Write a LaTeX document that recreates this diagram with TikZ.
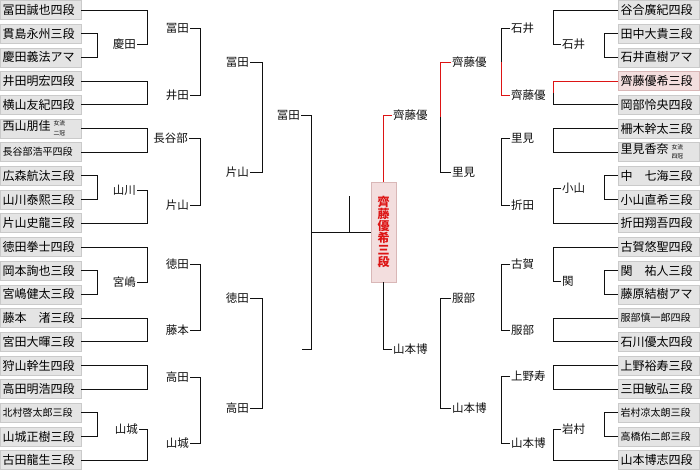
\documentclass[tikz,border=0pt]{standalone}
\usepackage{fontspec}
\setmainfont{Noto Sans CJK JP}
\usepackage{tikz}
\usetikzlibrary{calc}
\definecolor{ink}{HTML}{111111}
\definecolor{boxfill}{HTML}{E4E4E4}
\definecolor{boxline}{HTML}{CACACA}
\definecolor{winred}{HTML}{DD1414}
\definecolor{champfill}{HTML}{F3DEDE}
\definecolor{champline}{HTML}{D9B7B7}

\newcommand{\sm}[1]{{\fontsize{10}{12}\selectfont #1}}
\newcommand{\joryu}[2]{\hspace{3pt}{\fontsize{5.8}{9.5}\selectfont\begin{tabular}[c]{@{}c@{}}#1\\#2\end{tabular}}}

\begin{document}
\begin{tikzpicture}[x=1pt,y=-1pt,font=\fontsize{11.5}{13}\selectfont,
  player/.style={draw=boxline,fill=boxfill,line width=0.8pt,minimum width=81pt,
    minimum height=19pt,text width=76pt,align=left,inner xsep=2.5pt,inner ysep=0pt,
    font=\fontsize{12}{13}\selectfont},
  picked/.style={player,draw=champline,fill=champfill},
  champ/.style={draw=champline,fill=champfill,line width=0.8pt,minimum width=25pt,
    minimum height=100pt,inner sep=0pt,align=center,text=winred,
    font=\fontsize{12}{12}\selectfont\bfseries},
  lbl/.style={inner sep=1pt,text=ink},
  link/.style={ink,line width=0.9pt},
  win/.style={winred,line width=0.9pt}]
  \useasboundingbox (0,0) rectangle (700,474);

  % bracket columns
  \coordinate (la) at (97,0);
  \coordinate (lb) at (147,0);
  \coordinate (lc) at (200,0);
  \coordinate (ld) at (262,0);
  \coordinate (le) at (311,0);
  \coordinate (ra) at (604,0);
  \coordinate (rb) at (553,0);
  \coordinate (rc) at (501,0);
  \coordinate (rd) at (440,0);

  \foreach \n/\who in {1/冨田誠也四段,2/貫島永州三段,3/慶田義法アマ,4/井田明宏四段,
      5/横山友紀四段,6/西山朋佳\joryu{女流}{二冠},7/\sm{長谷部浩平四段},8/広森航汰三段,
      9/山川泰熙三段,10/片山史龍三段,11/徳田拳士四段,12/岡本詢也三段,13/宮嶋健太三段,
      14/藤本　渚三段,15/宮田大暉三段,16/狩山幹生四段,17/高田明浩四段,
      18/\sm{北村啓太郎三段},19/山城正樹三段,20/古田龍生三段}
    \node[player] (L\n) at (40.5,{10+23.7*(\n-1)}) {\who};

  \foreach \n/\who/\sty in {1/谷合廣紀四段/player,2/田中大貴三段/player,
      3/石井直樹アマ/player,4/齊藤優希三段/picked,5/岡部怜央四段/player,
      6/柵木幹太三段/player,7/里見香奈\joryu{女流}{四冠}/player,8/中　七海三段/player,
      9/小山直希三段/player,10/折田翔吾四段/player,11/古賀悠聖四段/player,
      12/関　祐人三段/player,13/藤原結樹アマ/player,14/\sm{服部慎一郎四段}/player,
      15/石川優太四段/player,16/上野裕寿三段/player,17/三田敏弘三段/player,
      18/\sm{岩村凉太朗三段}/player,19/\sm{高橋佑二郎三段}/player,20/山本博志四段/player}
    \node[\sty] (R\n) at (658.5,{10+23.7*(\n-1)}) {\who};

  \node[champ] (final) at (383.5,232) {齊\\藤\\優\\希\\三\\段};

  % left side winners
  \node[lbl,anchor=east] (keida) at (137,44) {慶田};
  \node[lbl,anchor=east] (yamakawa) at (137,190) {山川};
  \node[lbl,anchor=east] (miyajima) at (137,282) {宮嶋};
  \node[lbl,anchor=east] (yamashiroA) at (139,429) {山城};
  \node[lbl,anchor=east] (tomitaA) at (190,28) {冨田};
  \node[lbl,anchor=east] (ida) at (190,95) {井田};
  \node[lbl,anchor=east] (hasebe) at (189,138) {長谷部};
  \node[lbl,anchor=east] (katayamaA) at (190,205) {片山};
  \node[lbl,anchor=east] (tokudaA) at (190,264) {徳田};
  \node[lbl,anchor=east] (fujimoto) at (190,330) {藤本};
  \node[lbl,anchor=east] (takadaA) at (190,377) {高田};
  \node[lbl,anchor=east] (yamashiroB) at (190,443) {山城};
  \node[lbl,anchor=east] (tomitaB) at (250,62) {冨田};
  \node[lbl,anchor=east] (katayamaB) at (250,172) {片山};
  \node[lbl,anchor=east] (tokudaB) at (250,298) {徳田};
  \node[lbl,anchor=east] (takadaB) at (250,408) {高田};
  \node[lbl,anchor=east] (tomitaC) at (301,115) {冨田};
  \coordinate (leftC) at (302,349);
  \coordinate (tick) at (349,196);

  % right side winners
  \node[lbl,anchor=west] (ishiiA) at (561,44) {石井};
  \node[lbl,anchor=west] (koyama) at (561,188) {小山};
  \node[lbl,anchor=west] (seki) at (561,281) {関};
  \node[lbl,anchor=west] (iwamura) at (561,429) {岩村};
  \node[lbl,anchor=west] (ishiiB) at (510,28) {石井};
  \node[lbl,anchor=west] (saitoA) at (510,95) {齊藤優};
  \node[lbl,anchor=west] (satomiA) at (510,138) {里見};
  \node[lbl,anchor=west] (orita) at (510,205) {折田};
  \node[lbl,anchor=west] (koga) at (510,264) {古賀};
  \node[lbl,anchor=west] (hattoriA) at (510,330) {服部};
  \node[lbl,anchor=west] (uenoju) at (510,376) {上野寿};
  \node[lbl,anchor=west] (yamamotoA) at (510,443) {山本博};
  \node[lbl,anchor=west] (saitoB) at (451,62) {齊藤優};
  \node[lbl,anchor=west] (satomiB) at (451,172) {里見};
  \node[lbl,anchor=west] (hattoriB) at (451,298) {服部};
  \node[lbl,anchor=west] (yamamotoB) at (451,408) {山本博};
  \node[lbl,anchor=west] (saitoC) at (392,115) {齊藤優};
  \node[lbl,anchor=west] (yamamotoC) at (392,349) {山本博};

  \foreach \a/\b/\c in {L2/L3/la,L8/L9/la,L12/L13/la,L18/L19/la,
      L1/keida/lb,L4/L5/lb,L6/L7/lb,yamakawa/L10/lb,L11/miyajima/lb,L14/L15/lb,
      L16/L17/lb,yamashiroA/L20/lb,tomitaA/ida/lc,hasebe/katayamaA/lc,
      tokudaA/fujimoto/lc,takadaA/yamashiroB/lc,tomitaB/katayamaB/ld,
      tokudaB/takadaB/ld}
    \draw[link] (\a.east) -| (\c |- \b.east) -- (\b.east);
  \draw[link] (tomitaC.east) -| (le |- leftC) -- (leftC);
  \draw[link] (le |- final.west) -- (final.west);
  \draw[link] (tick) -- (tick |- final.west);

  \foreach \a/\b/\c in {R2/R3/ra,R9/R8/ra,R12/R13/ra,R18/R19/ra,
      R1/ishiiA/rb,R4/R5/rb,R6/R7/rb,koyama/R10/rb,R11/seki/rb,R14/R15/rb,
      R16/R17/rb,iwamura/R20/rb,ishiiB/saitoA/rc,satomiA/orita/rc,
      koga/hattoriA/rc,uenoju/yamamotoA/rc,saitoB/satomiB/rd,
      hattoriB/yamamotoB/rd}
    \draw[link] (\a.west) -| (\c |- \b.west) -- (\b.west);
  \draw[link] (final.south) |- (yamamotoC.west);

  % winning path
  \draw[win] (R4.west) -| ($(rb |- R4.west)!0.5!(rb |- R5.west)$);
  \draw[win] (saitoA.west) -| ($(rc |- ishiiB.west)!0.5!(rc |- saitoA.west)$);
  \draw[win] (saitoB.west) -| ($(rd |- saitoB.west)!0.5!(rd |- satomiB.west)$);
  \draw[win] (final.north) |- (saitoC.west);
\end{tikzpicture}
\end{document}
